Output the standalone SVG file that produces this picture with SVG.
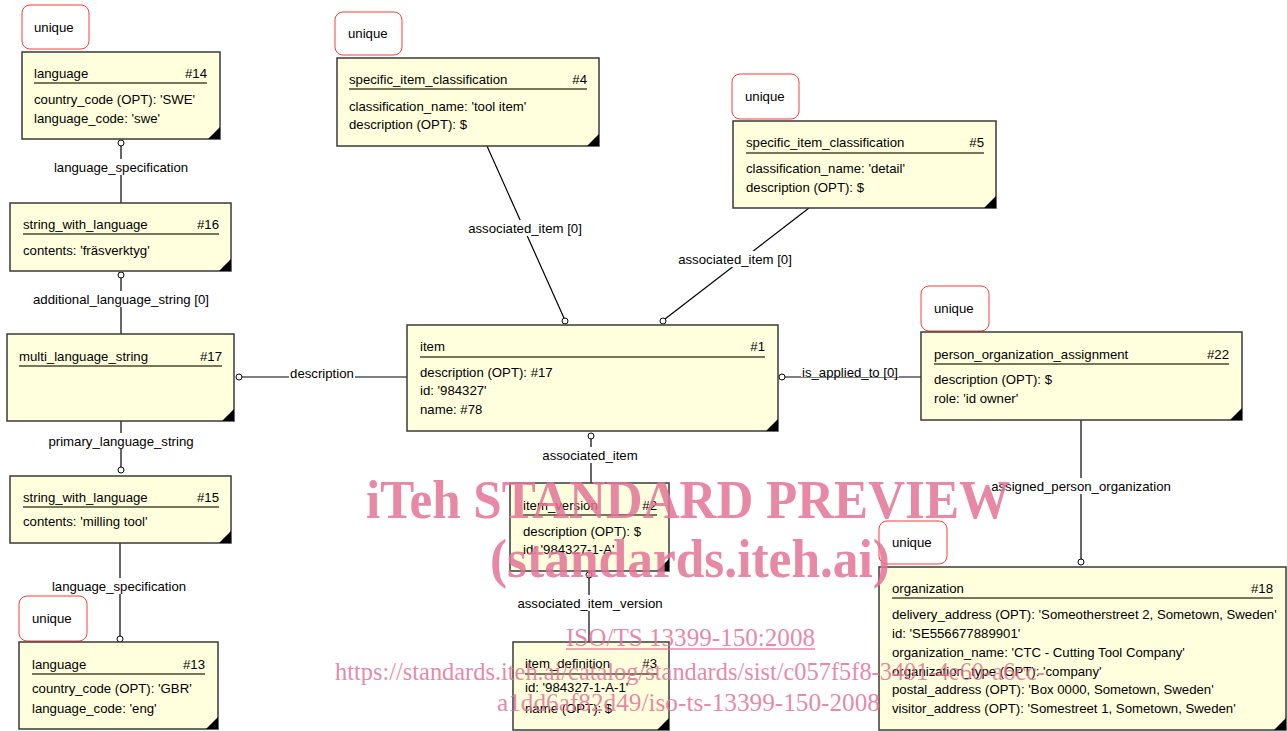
<svg xmlns="http://www.w3.org/2000/svg" width="1287" height="731" viewBox="0 0 1287 731">
<style>
  text { font-family: "Liberation Sans", Arial, sans-serif; font-size: 13.2px; fill: #000; }
  .box { fill: #FFFFDD; stroke: #3a3a3a; stroke-width: 1.5; }
  .ul { stroke: #4a4a30; stroke-width: 1.5; }
  .uq { fill: #fff; stroke: #ff3b3b; stroke-width: 1; }
  .corner { fill: #000; }
  .num { text-anchor: end; }
  .ln { stroke: #000; stroke-width: 1.2; fill: none; }
  .dot { fill: #fff; stroke: #000; stroke-width: 1; }
  .lbg { fill: #fff; }
  .lbl { text-anchor: middle; }
  text.wm { font-family: "Liberation Serif", "Times New Roman", serif; fill: #e27396; fill-opacity: 0.85; }
  text.wmb { font-size: 54px; font-weight: bold; }
  text.wms { font-size: 25px; }
</style>
<rect width="1287" height="731" fill="#fff"/>

<g id="connectors">
  <line class="ln" x1="121" y1="146" x2="121" y2="203"/>
  <circle class="dot" cx="121" cy="143" r="3"/>
  <rect class="lbg" x="52" y="159" width="138" height="16"/>
  <text class="lbl" x="121" y="171.5">language_specification</text>

  <line class="ln" x1="121" y1="278" x2="121" y2="334"/>
  <circle class="dot" cx="121" cy="275" r="3"/>
  <rect class="lbg" x="31" y="291" width="180" height="16"/>
  <text class="lbl" x="121" y="303.5">additional_language_string [0]</text>

  <line class="ln" x1="242" y1="377" x2="407" y2="377"/>
  <circle class="dot" cx="239" cy="377" r="3"/>
  <rect class="lbg" x="289" y="364" width="66" height="14"/>
  <text class="lbl" x="322" y="377.5">description</text>

  <line class="ln" x1="121" y1="421" x2="121" y2="467"/>
  <circle class="dot" cx="121" cy="470" r="3"/>
  <rect class="lbg" x="49" y="433" width="145" height="16"/>
  <text class="lbl" x="121" y="445.5">primary_language_string</text>

  <line class="ln" x1="120" y1="543" x2="120" y2="636"/>
  <circle class="dot" cx="120" cy="639" r="3"/>
  <rect class="lbg" x="50" y="578" width="138" height="16"/>
  <text class="lbl" x="119" y="590.5">language_specification</text>

  <line class="ln" x1="487" y1="146" x2="564" y2="318"/>
  <circle class="dot" cx="565" cy="321" r="3"/>
  <rect class="lbg" x="466" y="220" width="118" height="16"/>
  <text class="lbl" x="525" y="232.5">associated_item [0]</text>

  <line class="ln" x1="809" y1="208" x2="665" y2="319"/>
  <circle class="dot" cx="663" cy="321" r="3"/>
  <rect class="lbg" x="676" y="251" width="118" height="16"/>
  <text class="lbl" x="735" y="263.5">associated_item [0]</text>

  <line class="ln" x1="785" y1="377" x2="921" y2="377"/>
  <circle class="dot" cx="782" cy="377" r="3"/>
  <rect class="lbg" x="801" y="363" width="98" height="14"/>
  <text class="lbl" x="850" y="376.5">is_applied_to [0]</text>

  <line class="ln" x1="591" y1="439" x2="591" y2="483"/>
  <circle class="dot" cx="591" cy="436" r="3"/>
  <rect class="lbg" x="541" y="447" width="98" height="16"/>
  <text class="lbl" x="590" y="459.5">associated_item</text>

  <line class="ln" x1="589" y1="578" x2="589" y2="642"/>
  <circle class="dot" cx="589" cy="575" r="3"/>
  <rect class="lbg" x="516" y="595" width="148" height="16"/>
  <text class="lbl" x="590" y="607.5">associated_item_version</text>

  <line class="ln" x1="1081" y1="420" x2="1081" y2="559"/>
  <circle class="dot" cx="1081" cy="562" r="3"/>
  <rect class="lbg" x="990" y="478" width="182" height="16"/>
  <text class="lbl" x="1081" y="490.5">assigned_person_organization</text>
</g>

<g id="unique14"><rect class="uq" x="22" y="5" width="67" height="44" rx="8"/><text x="34" y="31.5">unique</text></g>
<g id="language14">
  <rect class="box" x="22" y="52" width="198" height="87"/>
  <polygon class="corner" points="208,139 220,139 220,127"/>
  <text x="34" y="77.5">language</text><text class="num" x="207" y="77.5">#14</text>
  <line class="ul" x1="34" y1="83" x2="207" y2="83"/>
  <text x="34" y="103.5">country_code (OPT): 'SWE'</text>
  <text x="34" y="122.5">language_code: 'swe'</text>
</g>

<g id="string16">
  <rect class="box" x="10" y="203" width="221" height="68"/>
  <polygon class="corner" points="219,271 231,271 231,259"/>
  <text x="23" y="228.5">string_with_language</text><text class="num" x="219" y="228.5">#16</text>
  <line class="ul" x1="23" y1="234" x2="219" y2="234"/>
  <text x="23" y="254.5">contents: 'fräsverktyg'</text>
</g>

<g id="multi17">
  <rect class="box" x="7" y="334" width="227" height="87"/>
  <polygon class="corner" points="222,421 234,421 234,409"/>
  <text x="19" y="360.5">multi_language_string</text><text class="num" x="222" y="360.5">#17</text>
  <line class="ul" x1="19" y1="366" x2="222" y2="366"/>
</g>

<g id="string15">
  <rect class="box" x="10" y="476" width="221" height="67"/>
  <polygon class="corner" points="219,543 231,543 231,531"/>
  <text x="23" y="501.5">string_with_language</text><text class="num" x="219" y="501.5">#15</text>
  <line class="ul" x1="23" y1="507" x2="219" y2="507"/>
  <text x="23" y="525.5">contents: 'milling tool'</text>
</g>

<g id="unique13"><rect class="uq" x="19" y="596" width="68" height="45" rx="8"/><text x="32" y="622.5">unique</text></g>
<g id="language13">
  <rect class="box" x="19" y="642" width="199" height="87"/>
  <polygon class="corner" points="206,729 218,729 218,717"/>
  <text x="32" y="668.5">language</text><text class="num" x="205" y="668.5">#13</text>
  <line class="ul" x1="32" y1="674" x2="205" y2="674"/>
  <text x="32" y="692.5">country_code (OPT): 'GBR'</text>
  <text x="32" y="712.5">language_code: 'eng'</text>
</g>

<g id="unique4"><rect class="uq" x="335" y="12" width="67" height="43" rx="8"/><text x="348" y="37.5">unique</text></g>
<g id="sic4">
  <rect class="box" x="337" y="58" width="262" height="88"/>
  <polygon class="corner" points="587,146 599,146 599,134"/>
  <text x="349" y="83.5">specific_item_classification</text><text class="num" x="587" y="83.5">#4</text>
  <line class="ul" x1="349" y1="89" x2="587" y2="89"/>
  <text x="349" y="110.5">classification_name: 'tool item'</text>
  <text x="349" y="128.5">description (OPT): $</text>
</g>

<g id="unique5"><rect class="uq" x="732" y="74" width="67" height="45" rx="8"/><text x="745" y="100.5">unique</text></g>
<g id="sic5">
  <rect class="box" x="733" y="121" width="263" height="87"/>
  <polygon class="corner" points="984,208 996,208 996,196"/>
  <text x="746" y="146.5">specific_item_classification</text><text class="num" x="984" y="146.5">#5</text>
  <line class="ul" x1="746" y1="153" x2="984" y2="153"/>
  <text x="746" y="172.5">classification_name: 'detail'</text>
  <text x="746" y="191.5">description (OPT): $</text>
</g>

<g id="item1">
  <rect class="box" x="407" y="325" width="371" height="106"/>
  <polygon class="corner" points="766,431 778,431 778,419"/>
  <text x="420" y="350.5">item</text><text class="num" x="765" y="350.5">#1</text>
  <line class="ul" x1="420" y1="357" x2="765" y2="357"/>
  <text x="420" y="376.5">description (OPT): #17</text>
  <text x="420" y="394.5">id: '984327'</text>
  <text x="420" y="413.5">name: #78</text>
</g>

<g id="unique22"><rect class="uq" x="921" y="286" width="68" height="45" rx="8"/><text x="934" y="312.5">unique</text></g>
<g id="poa22">
  <rect class="box" x="921" y="332" width="321" height="88"/>
  <polygon class="corner" points="1230,420 1242,420 1242,408"/>
  <text x="934" y="358.5">person_organization_assignment</text><text class="num" x="1229" y="358.5">#22</text>
  <line class="ul" x1="934" y1="364" x2="1229" y2="364"/>
  <text x="934" y="383.5">description (OPT): $</text>
  <text x="934" y="402.5">role: 'id owner'</text>
</g>

<g id="unique18"><rect class="uq" x="879" y="521" width="68" height="43" rx="8"/><text x="892" y="547">unique</text></g>
<g id="organization18">
  <rect class="box" x="879" y="567" width="407" height="163"/>
  <polygon class="corner" points="1274,730 1286,730 1286,718"/>
  <text x="892" y="592.5">organization</text><text class="num" x="1273" y="592.5">#18</text>
  <line class="ul" x1="892" y1="598" x2="1273" y2="598"/>
  <text x="892" y="618.5">delivery_address (OPT): 'Someotherstreet 2, Sometown, Sweden'</text>
  <text x="892" y="637.5">id: 'SE556677889901'</text>
  <text x="892" y="656.5">organization_name: 'CTC - Cutting Tool Company'</text>
  <text x="892" y="675.5">organization_type (OPT): 'company'</text>
  <text x="892" y="694">postal_address (OPT): 'Box 0000, Sometown, Sweden'</text>
  <text x="892" y="713">visitor_address (OPT): 'Somestreet 1, Sometown, Sweden'</text>
</g>

<g id="item_version2">
  <rect class="box" x="510" y="483" width="159" height="88"/>
  <polygon class="corner" points="657,571 669,571 669,559"/>
  <text x="523" y="509.5">item_version</text><text class="num" x="657" y="509.5">#2</text>
  <line class="ul" x1="523" y1="515" x2="657" y2="515"/>
  <text x="523" y="535.5">description (OPT): $</text>
  <text x="523" y="553.5">id: '984327-1-A'</text>
</g>

<g id="item_definition3">
  <rect class="box" x="513" y="642" width="156" height="88"/>
  <polygon class="corner" points="657,730 669,730 669,718"/>
  <text x="525" y="667.5">item_definition</text><text class="num" x="657" y="667.5">#3</text>
  <line class="ul" x1="525" y1="674" x2="657" y2="674"/>
  <text x="525" y="691.5">id: '984327-1-A-1'</text>
  <text x="525" y="712.5">name (OPT): $</text>
</g>

<g id="watermark">
  <text class="wm wmb" x="366" y="518" textLength="644" lengthAdjust="spacingAndGlyphs">iTeh STANDARD PREVIEW</text>
  <text class="wm wmb" x="490" y="577" textLength="400" lengthAdjust="spacingAndGlyphs">(standards.iteh.ai)</text>
  <text class="wm wms" x="566" y="646" textLength="249" lengthAdjust="spacingAndGlyphs">ISO/TS 13399-150:2008</text>
  <line x1="566" y1="649" x2="815" y2="649" stroke="#e27396" stroke-opacity="0.85" stroke-width="1.5"/>
  <text class="wm wms" x="335" y="680" textLength="710" lengthAdjust="spacingAndGlyphs">https://standards.iteh.ai/catalog/standards/sist/c057f5f8-3401-4e60-a6cc-</text>
  <text class="wm wms" x="497" y="711" textLength="383" lengthAdjust="spacingAndGlyphs">a1dd6af82d49/iso-ts-13399-150-2008</text>
</g>
</svg>
